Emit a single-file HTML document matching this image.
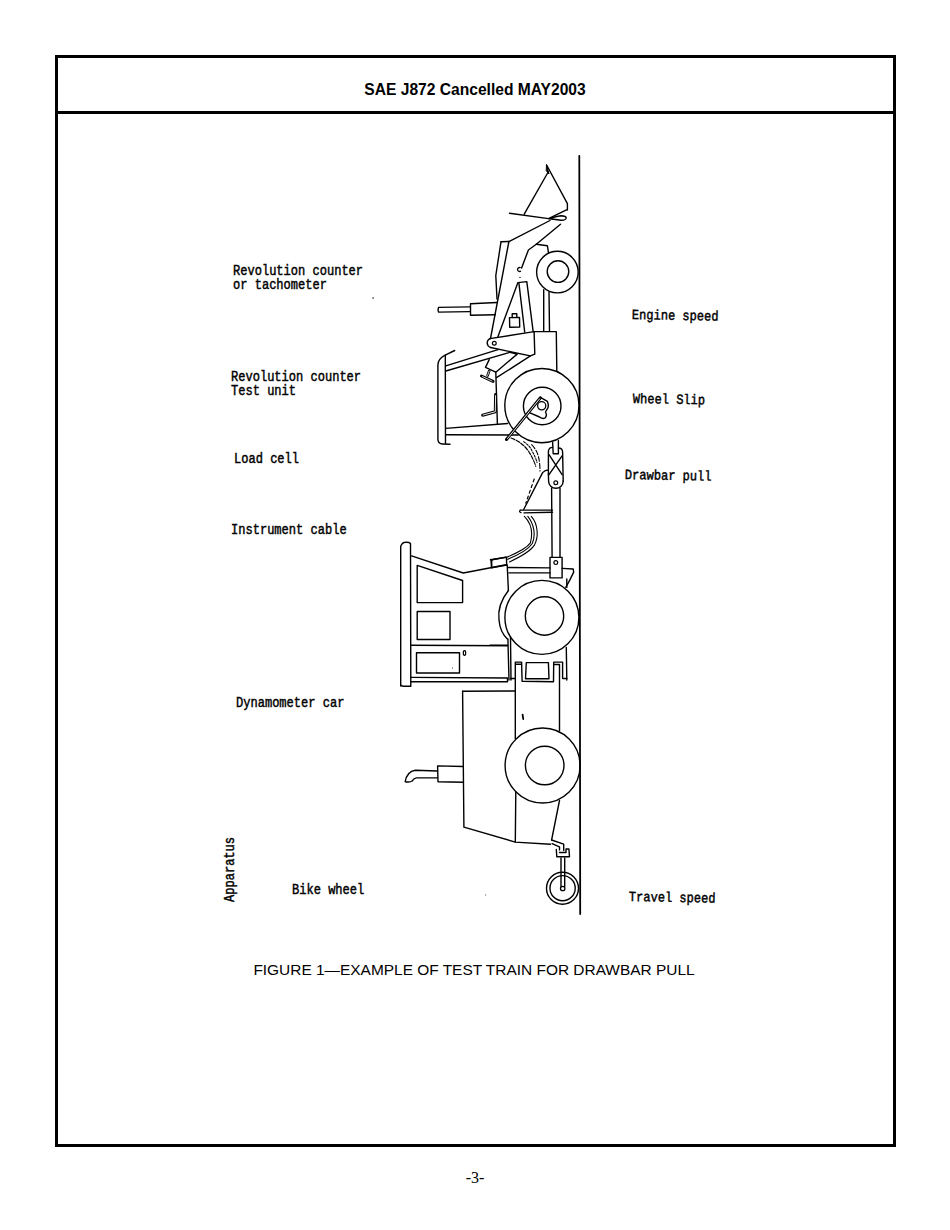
<!DOCTYPE html>
<html><head><meta charset="utf-8">
<style>
html,body{margin:0;padding:0;background:#fff;}
body{width:950px;height:1230px;position:relative;overflow:hidden;}
.frame{position:absolute;left:55px;top:55px;width:835px;height:1086px;border:3.4px solid #000;}
.hline{position:absolute;left:55px;top:110.5px;width:841px;height:3.4px;background:#000;}
.hdr{position:absolute;left:0;width:950px;top:80.5px;text-align:center;font:bold 15.6px "Liberation Sans",sans-serif;color:#000;}
.cap{position:absolute;left:-1px;width:950px;top:961px;text-align:center;font:15.45px "Liberation Sans",sans-serif;color:#000;}
.pn{position:absolute;left:0;width:950px;top:1168.5px;text-align:center;font:16px "Liberation Serif",serif;color:#000;}
.lb{position:absolute;font:14px "Liberation Mono",monospace;color:#000;-webkit-text-stroke:0.45px #000;transform-origin:0 0;transform:scaleX(0.86);white-space:pre;line-height:14px;}
svg{position:absolute;left:0;top:0;}
</style></head><body>
<div class="frame"></div>
<div class="hline"></div>
<div class="hdr">SAE J872 Cancelled MAY2003</div>
<div class="cap">FIGURE 1—EXAMPLE OF TEST TRAIN FOR DRAWBAR PULL</div>
<div class="pn">-3-</div>
<div class="lb" id="l1" style="left:233px;top:264px;">Revolution counter
or tachometer</div>
<div class="lb" id="l2" style="left:231px;top:370px;">Revolution counter
Test unit</div>
<div class="lb" id="l3" style="left:234px;top:452px;">Load cell</div>
<div class="lb" id="l4" style="left:231px;top:523px;">Instrument cable</div>
<div class="lb" id="l5" style="left:236px;top:696px;">Dynamometer car</div>
<div class="lb" id="l6" style="left:292px;top:883px;">Bike wheel</div>
<div class="lb" id="l7" style="left:632px;top:308px;transform:rotate(1.1deg) scaleX(0.86);">Engine speed</div>
<div class="lb" id="l8" style="left:633px;top:392px;transform:rotate(1.1deg) scaleX(0.86);">Wheel Slip</div>
<div class="lb" id="l9" style="left:625px;top:468px;transform:rotate(1.1deg) scaleX(0.86);">Drawbar pull</div>
<div class="lb" id="l10" style="left:629px;top:890px;transform:rotate(1.1deg) scaleX(0.86);">Travel speed</div>
<div class="lb" id="l11" style="left:222.6px;top:902px;transform:rotate(-90deg) scaleX(0.86);">Apparatus</div>
<svg width="950" height="1230" viewBox="0 0 950 1230" fill="none" stroke="#000" stroke-width="1.4" stroke-linecap="round" stroke-linejoin="round">
<rect x="372.2" y="297" width="1.8" height="1.9" fill="#888" stroke="none"/>
<rect x="485" y="894.2" width="1.1" height="1.6" fill="#999" stroke="none"/>
<!-- ground line -->
<path d="M579.3,155.8 L580.2,914" stroke-width="1.8"/>
<!-- bucket -->
<path d="M548.2,172 L524.2,214.2"/>
<path d="M546.6,165 L567.4,203.7 L567.4,210"/>
<path d="M546.6,165 L549,174 L546.5,171 Z" fill="#000" stroke-width="1"/>
<path d="M509.5,213.2 L548.5,218.6 L566.5,209.8"/>
<path d="M549,218.8 Q556,216.2 561,215.8 Q566,215.8 566.2,218 Q565.8,220.4 561,220.2 Q556,219.8 549,218.8 Z"/>
<path d="M550,220.5 L508.9,241.6"/>
<path d="M560.5,224.2 L536.3,244.2"/>
<!-- beam -->
<path d="M501,241.8 L508.9,241.5"/>
<path d="M501,241.8 L495.8,275.5 L497,299"/>
<path d="M508.9,241.5 L490.5,338.5"/>
<!-- housing top -->
<path d="M536.3,244.2 L547.4,245.8 L548.4,252.3"/>
<path d="M536.3,244.2 L528.4,250 L521.6,268"/>
<path d="M520.2,267.6 A2,2 0 1 0 520.6,271.2" stroke-width="1.3"/>
<circle cx="520" cy="277.4" r="0.7" fill="#000" stroke="none"/>
<!-- front wheel -->
<circle cx="557.4" cy="272.1" r="20.8"/>
<circle cx="558" cy="271.6" r="10.8"/>
<!-- exhaust pipe -->
<path d="M470.5,303.7 L497,302.5 M470.5,315.3 L495.3,314.7 M470.5,303.7 L470.5,315.3"/>
<path d="M469.5,306.9 L438.5,307.4 Q437.6,309.7 438.5,312.1 L469.5,311.6"/>
<!-- A-frame -->
<path d="M497.9,336.8 L517.9,282.6 L526.8,281.6 L533.2,331.8"/>
<path d="M518.9,283.2 L524.7,332"/>
<path d="M509.5,317.6 L519.5,317.4 L519.7,327 L509.7,327.2 Z"/>
<path d="M512.2,317.5 L512.2,313.8 L516.8,313.7 L516.8,317.4"/>
<!-- pillar -->
<path d="M543.7,289.8 L543.7,330.8 M549,291.8 L549.5,330.8"/>
<!-- housing body -->
<path d="M489.9,338.6 L534.1,331.6 L556.3,331.6 L556.8,370.5"/>
<path d="M534.1,331.6 L534.8,354.1 L530.4,355.9 L490.6,347.5"/>
<path d="M489.9,338.6 A4.8,4.8 0 0 0 490.6,347.5"/>
<circle cx="494.3" cy="343.3" r="1.9" stroke-width="1.2"/>
<!-- canopy -->
<path d="M454.7,350.5 L444.7,355.3 Q438.2,358.5 437.9,365 L437.9,439.5 Q438.2,443.8 442.5,444 L450,444.2"/>
<path d="M445.3,355.3 L445.5,443.3"/>
<path d="M445.8,365.8 L498,349.7"/>
<path d="M445.8,371 L509.8,352.3"/>
<!-- seat -->
<path d="M509.8,352.3 L517.2,354.1 L495.8,372.2 L485.5,367.4 L489.2,359.6"/>
<path d="M530.4,355.9 L496.5,377.7"/>
<path d="M495.8,372.2 L497.4,424.2"/>
<path d="M489.2,371 L487.6,375.5" stroke-width="2.6"/>
<path d="M489.2,371 L487.6,375.5" stroke="#fff" stroke-width="0.8"/>
<path d="M481.5,376 L493,381.3" stroke-width="3"/>
<path d="M482.5,376.6 L492,381" stroke="#fff" stroke-width="0.8"/>
<!-- lever -->
<path d="M495.6,394.6 L495.3,411.8 L482.6,415.2" stroke-width="3"/>
<path d="M495.6,395.6 L495.3,411.8 L483.2,415" stroke="#fff" stroke-width="0.9"/>
<!-- floor bars -->
<path d="M445.8,428.4 L507.6,423.5"/>
<path d="M445.8,434.7 L518.3,435"/>
<!-- rear loader wheel -->
<circle cx="541.9" cy="405.6" r="37.1"/>
<circle cx="542.2" cy="406" r="18.8"/>
<circle cx="541.7" cy="405.8" r="4.1" stroke-width="1.3"/>
<path d="M540.4,397.3 L547.4,401.4 Q549,405 548,407.7 L545.5,412 Q547.5,415.5 545,418 Q543,419.5 539.5,417 L530,412.8"/>
<!-- rod -->
<path d="M540.4,397.8 L506.5,439.5" stroke-width="3"/>
<path d="M539.6,398.8 L507.5,438.5" stroke="#fff" stroke-width="0.9"/>
<!-- cable dashed -->
<path d="M511,438 Q522,442 528.4,451 Q533,458 535.8,466.3" stroke-width="1.2" stroke-dasharray="4,1.5"/>
<path d="M523.7,441.6 Q530,446 532,451 Q536,458 537,462.5" stroke-width="1.1" stroke-dasharray="2,1.5"/>
<path d="M531.6,444.7 Q537,450 538.5,457 Q540,463 540,471" stroke-width="1.1" stroke-dasharray="5,2"/>
<path d="M534.2,479 L525.8,503.2" stroke-width="1.2" stroke-dasharray="3,3"/>
<!-- load cell -->
<path d="M552.6,442.1 L553.2,453.7 L558.4,453.7 L558.4,440.5"/>
<path d="M552.6,447.4 Q549,447.5 548.4,451 L548.4,474.7"/>
<path d="M558.4,448 Q562.5,448 562.6,452 L563.2,481"/>
<path d="M549,454.7 L562.1,474.7 M562.1,455.8 L549,474.7"/>
<path d="M548.4,474.7 L548.6,481 A7.3,7.3 0 0 0 563.2,481"/>
<circle cx="555.8" cy="482.8" r="1.9" stroke-width="1.2"/>
<path d="M551.6,488 L552.1,557 M560,488 L560,557"/>
<!-- drawbar bracket -->
<path d="M548.4,470 Q545,470 542.6,472.6 L523.7,509.5"/>
<path d="M520.3,510.1 L552.5,510.1 M524,512.9 L552.5,512.3"/>
<path d="M520.3,510.1 Q518.5,512 521,512.6" stroke-width="1.3"/>
<!-- cable lower -->
<path d="M524.4,516.4 C531,523 533,533 530.4,542.9 C527,548 517,553 506.4,557.4" stroke-width="1.1"/>
<path d="M527.8,516.4 C534,524 536,535 532.3,543.5 C528,550 518,555 507.6,559.3" stroke-width="1.1"/>
<path d="M531.3,516.4 C538,524 539,537 534.2,545.4 C530,552 520,557 509.5,561.9" stroke-width="1.1"/>
<path d="M491,560 L506.4,557.1 L506.7,565 L491.5,567.8 Z"/>
<!-- hitch block -->
<path d="M550,557.4 L562.1,557.4 L562.1,577.9 L550,577.9 Z"/>
<circle cx="555.8" cy="562.6" r="1.9" stroke-width="1.2"/>
<!-- dyno top rails -->
<path d="M507.6,567.5 L550,567.9 M508.9,572.9 L550,572.9"/>
<path d="M562.1,568.4 L573.2,569 L573.7,572.1 Q570,580 565.8,587.4"/>
<!-- dyno cab -->
<path d="M400.7,686 L400.7,546.4 Q402,542.5 405.5,542.3 Q409,542 410.5,543.5 L410.8,686.2 L403,686.2 Q400.7,686 400.7,684"/>
<path d="M411.5,555.9 L463.3,573 L506.2,564.7"/>
<path d="M490.4,559.7 L506.2,557.2 M491.7,559.7 L491.7,566.5"/>
<path d="M417.2,565.4 L462.6,580.5 L462.6,602.6 L417.2,602.6 Z"/>
<path d="M417.2,611.5 L450,611.5 L450,639.5 L417.2,639.5 Z"/>
<path d="M410.8,645.2 L507.5,645.8"/>
<path d="M416.5,652.7 L459.5,652.7 L459.5,673 L416.5,673 Z"/>
<ellipse cx="464.5" cy="653" rx="1.2" ry="2.3" stroke-width="1.2"/>
<circle cx="452.5" cy="667.9" r="0.5" fill="#000" stroke="none"/>
<path d="M410.8,677.4 L507.5,678 M410.8,681.8 L507.5,681.8 M507.5,678 L507.5,681.8"/>
<!-- dyno front wheel -->
<circle cx="541.9" cy="617.4" r="37"/>
<circle cx="544.5" cy="616" r="19.2"/>
<path d="M508.4,590.5 Q497,605 499,620 Q500,632 507.4,639"/>
<path d="M507.2,565 L508.4,590.5"/>
<path d="M507.9,639 L509,680 M510.5,636.8 L511,680"/>
<path d="M566.3,647.4 L566.8,680 M566.8,579 L566.8,587.4"/>
<path d="M490,645.3 L507.4,645.3"/>
<!-- slots -->
<path d="M510.5,678.5 L515.3,678.5 L515.3,662.1 L521.6,662.1 L522.1,681.2 L553.5,681.8 L553.7,662.1 L562.6,662.1 L562.6,678.5 L566.8,678.5"/>
<path d="M516,664.2 L521,664.2 M554.5,664.5 L559.5,664.5 L559.5,678.5"/>
<path d="M526.3,662.6 L548.4,662.6 L549,678.8 L525.5,678.8 Z"/>
<!-- dyno rear body -->
<path d="M462.6,691.3 L515.3,691"/>
<path d="M515.3,679 L515.3,738.4"/>
<path d="M559.5,679.5 L559.5,731"/>
<path d="M522.6,714.7 L523.2,719" stroke-width="1.8"/>
<path d="M462.6,691.3 L463.9,827.2 L515.3,842.1 L550.5,844.2"/>
<path d="M515.8,791.6 L515.3,842.1"/>
<path d="M559.5,800.5 L551.6,840"/>
<!-- exhaust 2 -->
<path d="M463.3,766.5 L437.6,765.9 L438,781.7 L463.3,782.3"/>
<path d="M437.4,771 L415.3,770.3 Q407,771.5 405.2,781.7 Q410,782.5 412.1,781 Q414,778.2 416.5,777.9 L437.4,777.9"/>
<!-- dyno rear wheel -->
<circle cx="542.6" cy="765.5" r="37.5"/>
<circle cx="544.7" cy="765.5" r="19.3"/>
<!-- bike hitch -->
<path d="M551.6,840 L563.7,844.2 L563.7,850.5 M552.1,843.7 L559.5,846.8 L559.5,850"/>
<path d="M556.3,849.5 L556.8,856.8 L569.5,856.8 L568.9,849 L566,849 L566,852.5 L559.5,852.5"/>
<path d="M561,857.9 L561,886.4 M564.7,857.9 L564.7,886.4"/>
<circle cx="562.5" cy="888.3" r="16"/>
<circle cx="562.6" cy="888.2" r="12.6"/>
<circle cx="562.7" cy="888.5" r="2.2" stroke-width="1.3"/>
</svg>
</body></html>
